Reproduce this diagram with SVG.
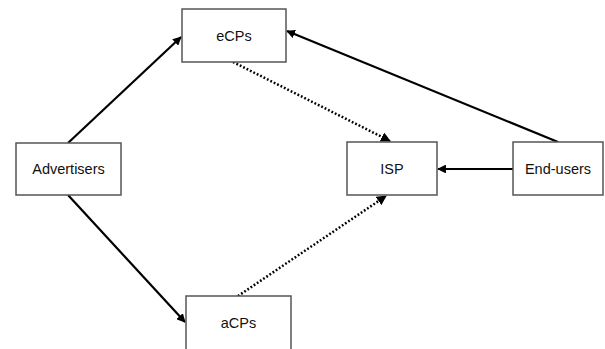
<svg xmlns="http://www.w3.org/2000/svg" width="605" height="349" viewBox="0 0 605 349">
<style>
.box{fill:#fff;stroke:#555;stroke-width:1.5}
.lbl{font-family:"Liberation Sans",Arial,sans-serif;font-size:14.5px;fill:#111;text-anchor:middle;dominant-baseline:central}
.solid{stroke:#000;stroke-width:2.2;fill:none}
.dot{stroke:#000;stroke-width:2.5;stroke-dasharray:1.8 2;fill:none}
</style>
<defs>
<marker id="ah" viewBox="0 0 10 10" refX="9" refY="5" markerWidth="4" markerHeight="4" orient="auto" markerUnits="strokeWidth">
<path d="M0,0 L10,5 L0,10 z" fill="#000"/>
</marker>
</defs>
<rect width="605" height="349" fill="#fff"/>
<g id="connectors">
<line class="solid" x1="68" y1="143" x2="181" y2="37" marker-end="url(#ah)"/>
<line class="solid" x1="68" y1="195" x2="185" y2="322" marker-end="url(#ah)"/>
<line class="solid" x1="558" y1="142" x2="287" y2="31" marker-end="url(#ah)"/>
<line class="solid" x1="513" y1="169" x2="438" y2="169" marker-end="url(#ah)"/>
<line class="dot" x1="233" y1="62" x2="390" y2="141" marker-end="url(#ah)"/>
<line class="dot" x1="238" y1="296" x2="386" y2="196" marker-end="url(#ah)"/>
</g>
<g id="eCPs"><rect class="box" x="182" y="9" width="104" height="53"/><text class="lbl" x="234" y="36">eCPs</text></g>
<g id="Advertisers"><rect class="box" x="16" y="143" width="105" height="52"/><text class="lbl" x="68.5" y="169">Advertisers</text></g>
<g id="ISP"><rect class="box" x="347" y="142" width="90" height="53"/><text class="lbl" x="392" y="169">ISP</text></g>
<g id="End-users"><rect class="box" x="513" y="142" width="90" height="53"/><text class="lbl" x="558" y="169">End-users</text></g>
<g id="aCPs"><rect class="box" x="186" y="296" width="105" height="60"/><text class="lbl" x="238.5" y="323">aCPs</text></g>
</svg>
